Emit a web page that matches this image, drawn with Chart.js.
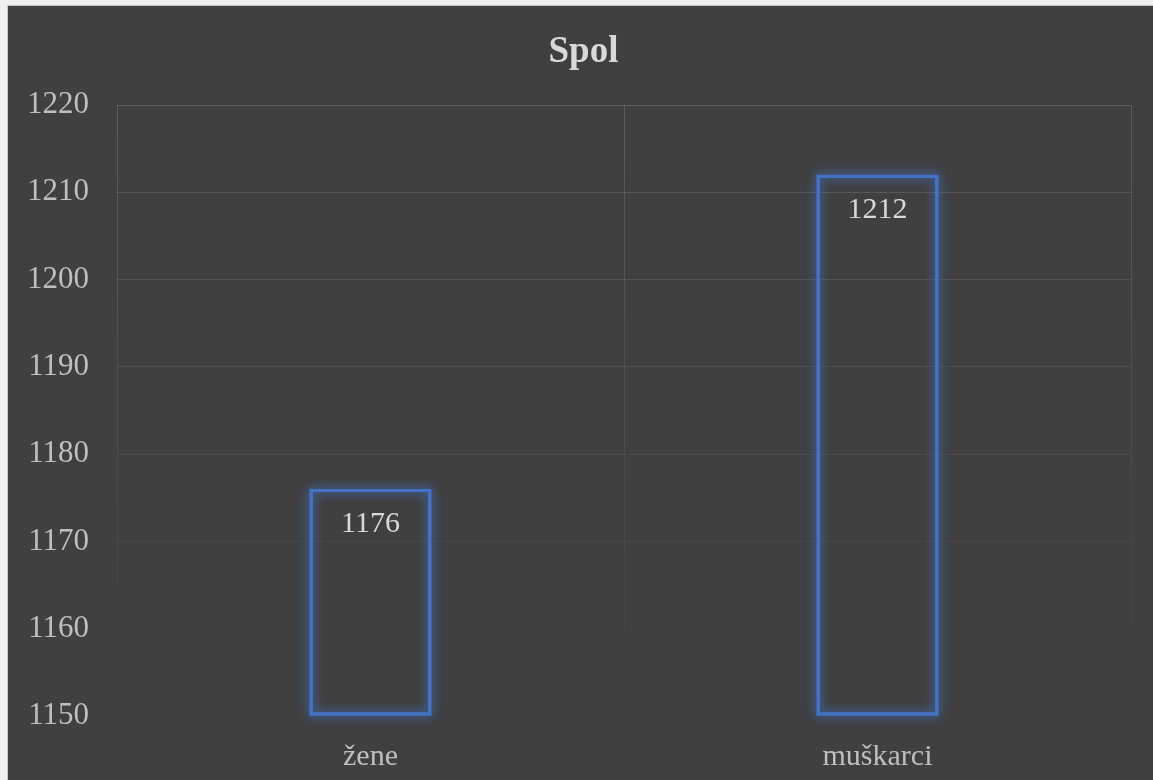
<!DOCTYPE html>
<html>
<head>
<meta charset="utf-8">
<title>Spol</title>
<script src="https://cdn.jsdelivr.net/npm/chart.js@4/dist/chart.umd.min.js"></script>
<style>
  html, body { margin: 0; padding: 0; background: #f0f0f0; }
  #wrap { position: relative; width: 1153px; height: 780px; }
</style>
</head>
<body>
<div id="wrap"><canvas id="chart" width="1153" height="780"></canvas></div>
<script>
// Categories and counts
const categories = ['žene', 'muškarci'];
const counts = [1176, 1212];
// Value axis range
const axisMin = 1150;
const axisMax = 1220;
const axisStep = 10;
const chartTitle = 'Spol';

const SERIF = "'Liberation Serif', 'Times New Roman', serif";
const BAR_BLUE = '#4472c4';

// Grid lines fade out toward the bottom of the plot
let gridGradient = null;
let gridKey = '';
function gridColor(ctx) {
  const chart = ctx.chart;
  const area = chart.chartArea;
  if (!area) return 'rgba(255,255,255,0.1)';
  const key = area.top + ':' + area.bottom;
  if (!gridGradient || gridKey !== key) {
    const g = chart.ctx.createLinearGradient(0, area.top, 0, area.bottom);
    g.addColorStop(0, 'rgba(255,255,255,0.15)');
    g.addColorStop(0.55, 'rgba(255,255,255,0.06)');
    g.addColorStop(1, 'rgba(255,255,255,0.0)');
    gridGradient = g;
    gridKey = key;
  }
  return gridGradient;
}

// Dark chart surface with a thin frame, and the title centred on it
const surfacePlugin = {
  id: 'surface',
  beforeDraw(chart) {
    const c = chart.ctx;
    c.save();
    c.fillStyle = '#f0f0f0';
    c.fillRect(0, 0, chart.width, chart.height);
    c.fillStyle = '#c4c4c4';
    c.fillRect(7, 5, chart.width - 7, chart.height - 5);
    c.fillStyle = '#404040';
    c.fillRect(8, 6, chart.width - 8, chart.height - 6);
    c.fillStyle = '#d9d9d9';
    c.font = 'bold 37px ' + SERIF;
    c.textAlign = 'center';
    c.textBaseline = 'alphabetic';
    c.fillText(chartTitle, (8 + chart.width) / 2 + 3, 62);
    c.restore();
  }
};

// Soft blue glow around each bar outline
const glowPlugin = {
  id: 'barGlow',
  beforeDatasetsDraw(chart) {
    const c = chart.ctx;
    const meta = chart.getDatasetMeta(0);
    c.save();
    c.strokeStyle = 'rgba(68,114,196,0.85)';
    c.lineWidth = 3;
    c.shadowColor = 'rgba(68,114,196,0.95)';
    c.shadowBlur = 11;
    meta.data.forEach(bar => {
      const p = bar.getProps(['x', 'y', 'base', 'width'], true);
      const left = p.x - p.width / 2;
      c.strokeRect(left + 1.5, p.y + 1.5, p.width - 3, p.base - p.y - 3);
      c.strokeRect(left + 1.5, p.y + 1.5, p.width - 3, p.base - p.y - 3);
    });
    c.restore();
  }
};

// Value labels just inside the top of each bar
const valueLabelPlugin = {
  id: 'valueLabels',
  afterDatasetsDraw(chart) {
    const c = chart.ctx;
    const meta = chart.getDatasetMeta(0);
    const values = chart.data.datasets[0].data;
    c.save();
    c.fillStyle = '#d9d9d9';
    c.font = '30px ' + SERIF;
    c.textAlign = 'center';
    c.textBaseline = 'alphabetic';
    meta.data.forEach((bar, i) => {
      const p = bar.getProps(['x', 'y'], true);
      c.fillText(String(values[i]), p.x, p.y + 43);
    });
    c.restore();
  }
};

new Chart(document.getElementById('chart'), {
  type: 'bar',
  data: {
    labels: categories,
    datasets: [{
      data: counts,
      backgroundColor: 'rgba(0,0,0,0)',
      borderColor: BAR_BLUE,
      borderWidth: 3,
      borderSkipped: false,
      barPercentage: 0.24,
      categoryPercentage: 1.0,
      base: axisMin
    }]
  },
  options: {
    responsive: false,
    animation: false,
    devicePixelRatio: 1,
    layout: { padding: { left: 0, right: 22, top: 105, bottom: 0 } },
    plugins: {
      legend: { display: false },
      tooltip: { enabled: false },
      title: { display: false }
    },
    scales: {
      x: {
        grid: { display: true, offset: true, color: gridColor, lineWidth: 1, drawTicks: false },
        border: { display: false },
        ticks: {
          color: '#bfbfbf',
          font: { family: SERIF, size: 30 },
          padding: 23
        },
        afterFit(scale) { scale.height = 64; }
      },
      y: {
        min: axisMin,
        max: axisMax,
        grid: { color: gridColor, lineWidth: 1, drawTicks: false },
        border: { display: false },
        ticks: {
          stepSize: axisStep,
          color: '#bfbfbf',
          font: { family: SERIF, size: 31 },
          padding: 28,
          callback: (value) => String(value)
        },
        afterFit(scale) { scale.width = 117; }
      }
    }
  },
  plugins: [surfacePlugin, glowPlugin, valueLabelPlugin]
});
</script>
</body>
</html>
